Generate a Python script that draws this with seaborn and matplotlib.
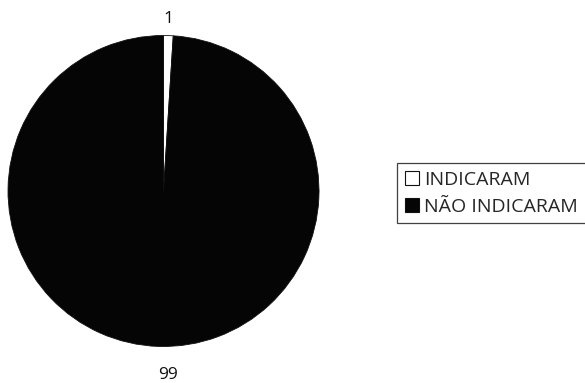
import matplotlib
matplotlib.use("Agg")
import matplotlib.pyplot as plt
import seaborn as sns
from matplotlib.patches import Patch

categories = ["INDICARAM", "NÃO INDICARAM"]
values = [1, 99]
colors = ["#ffffff", "#050505"]

sns.set_theme(style="white")
plt.rcParams["font.family"] = ["Open Sans", "DejaVu Sans"]

fig = plt.figure(figsize=(5.85, 3.83), dpi=100)
ax = fig.add_axes([0.0137, 0.0953, 0.5316, 0.812])
wedges, _ = ax.pie(values, colors=colors, startangle=90, counterclock=False,
                   radius=1, wedgeprops=dict(edgecolor="#111111", linewidth=0.6))
ax.set_xlim(-1, 1)
ax.set_ylim(-1, 1)
ax.set_aspect("equal")
ax.axis("off")

ax.text(0.03, 1.106, str(values[0]), ha="center", va="center", fontsize=12.5, color="#111111")
ax.text(0.03, -1.183, str(values[1]), ha="center", va="center", fontsize=12.5, color="#111111")

handles = [Patch(facecolor=c, edgecolor="#111111", linewidth=0.8) for c in colors]
leg = fig.legend(handles, categories, loc="upper left", bbox_to_anchor=(0.679, 0.574),
                 bbox_transform=fig.transFigure, frameon=True, fontsize=14,
                 handlelength=0.7, handleheight=0.7, handletextpad=0.3,
                 borderpad=0.4, labelspacing=0.45, borderaxespad=0, fancybox=False)
leg.get_frame().set_edgecolor("#111111")
leg.get_frame().set_linewidth(0.9)

fig.savefig("out.png", dpi=100, facecolor="white")
